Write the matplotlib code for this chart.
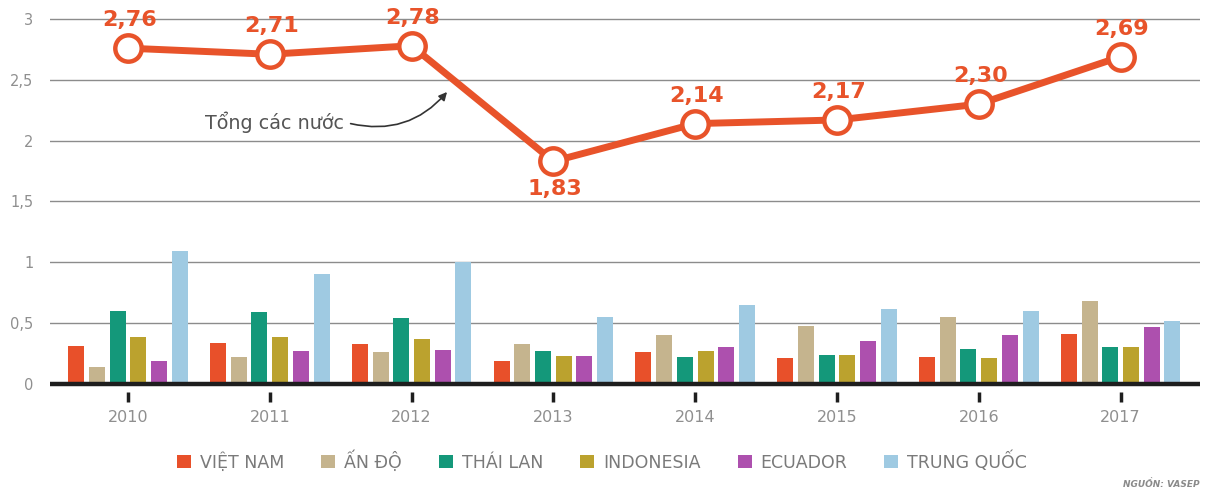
import matplotlib
matplotlib.use("Agg")
import matplotlib.pyplot as plt
from matplotlib.patches import Patch
import numpy as np

years = [2010, 2011, 2012, 2013, 2014, 2015, 2016, 2017]
total = [2.76, 2.71, 2.78, 1.83, 2.14, 2.17, 2.30, 2.69]
total_labels = ["2,76", "2,71", "2,78", "1,83", "2,14", "2,17", "2,30", "2,69"]

series_names = ["VIỆT NAM", "ẤN ĐỘ", "THÁI LAN", "INDONESIA", "ECUADOR", "TRUNG QUỐC"]
viet_nam = [0.31, 0.34, 0.33, 0.19, 0.26, 0.21, 0.22, 0.41]
an_do = [0.14, 0.22, 0.26, 0.33, 0.40, 0.48, 0.55, 0.68]
thai_lan = [0.60, 0.59, 0.54, 0.27, 0.22, 0.24, 0.29, 0.30]
indonesia = [0.39, 0.39, 0.37, 0.23, 0.27, 0.24, 0.21, 0.30]
ecuador = [0.19, 0.27, 0.28, 0.23, 0.30, 0.35, 0.40, 0.47]
trung_quoc = [1.09, 0.90, 1.00, 0.55, 0.65, 0.62, 0.60, 0.52]
series = [viet_nam, an_do, thai_lan, indonesia, ecuador, trung_quoc]
colors = ["#E8502A", "#C5B48E", "#14987A", "#BBA22E", "#AD50AE", "#9FCAE2"]

yticks = [0, 0.5, 1, 1.5, 2, 2.5, 3]
ytick_labels = ["0", "0,5", "1", "1,5", "2", "2,5", "3"]

line_color = "#E8532A"
grid_color = "#8C8C8C"
text_grey = "#8F8F8F"

plt.rcParams['font.family'] = ['DejaVu Sans']

W, H = 1207, 494
fig = plt.figure(figsize=(W / 100, H / 100), dpi=100)
ax = fig.add_axes([50 / W, 102 / H, 1150 / W, 392 / H])
ax.set_xlim(2009.45, 2017.56)
ax.set_ylim(-0.066, 3.156)

for s in ax.spines.values():
    s.set_visible(False)

# grid
for yv in yticks[1:]:
    ax.axhline(yv, color=grid_color, lw=1.0, zorder=0)
ax.axhline(0, color="#1E1E1E", lw=3.2, zorder=3)

# bars
n = len(series)
step = 0.146
width = 0.113
x = np.array(years, dtype=float)
for i, (vals, c) in enumerate(zip(series, colors)):
    ax.bar(x + (i - (n - 1) / 2) * step, vals, width=width, color=c, zorder=2)

# total line
ax.plot(years, total, color=line_color, lw=5, zorder=5, solid_capstyle='round')
ax.plot(years, total, linestyle='none', marker='o', markersize=19,
        markerfacecolor='white', markeredgecolor=line_color, markeredgewidth=3.2, zorder=6)
for xv, yv, lab in zip(years, total, total_labels):
    below = yv < 2.0
    ax.annotate(lab, (xv, yv), xytext=(1, -20 if below else 20), textcoords='offset points',
                ha='center', va='center', color=line_color, fontsize=16,
                fontweight='bold', zorder=7)

# annotation
ax.annotate("", xy=(2012.25, 2.40), xytext=(2011.57, 2.14),
            arrowprops=dict(arrowstyle='-|>', color='#333333', lw=1.2,
                            connectionstyle='arc3,rad=0.3', mutation_scale=12,
                            shrinkA=0, shrinkB=0), zorder=4)
ax.text(2011.52, 2.155, "Tổng các nước", ha='right', va='center', fontsize=13.8,
        color='#555555', zorder=4)

# ticks
ax.set_yticks(yticks)
ax.set_yticklabels(ytick_labels)
ax.set_xticks(years)
ax.set_xticklabels([str(y) for y in years])
ax.tick_params(axis='y', length=0, pad=12, labelsize=10.5, labelcolor=text_grey)
ax.tick_params(axis='x', direction='out', length=7, width=2.5, color='#1E1E1E',
               pad=6, labelsize=11.5, labelcolor=text_grey)

# legend
handles = [Patch(facecolor=c, edgecolor='none') for c in colors]
fig.legend(handles, series_names, loc='center', bbox_to_anchor=(602 / W, 33 / H),
           ncol=6, frameon=False, fontsize=12.5, labelcolor='#7A7A7A',
           handlelength=0.8, handleheight=0.8, handletextpad=0.5, columnspacing=2.15)

fig.text(1200 / W, 10 / H, "NGUỒN: VASEP", ha='right', va='center', fontsize=6.5,
         fontstyle='italic', fontweight='bold', color='#8A8A8A')

fig.savefig("out.png", dpi=100)
